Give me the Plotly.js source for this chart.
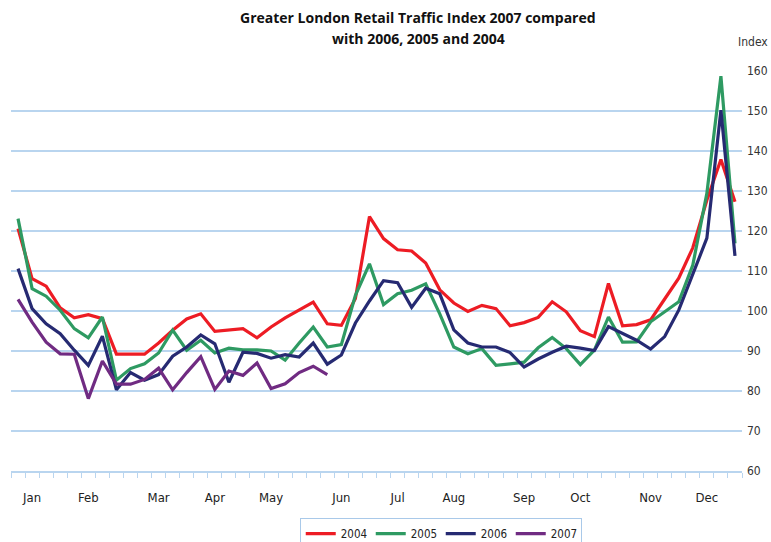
<!DOCTYPE html>
<html>
<head>
<meta charset="utf-8">
<script src="https://cdn.plot.ly/plotly-3.0.1.min.js"></script>
<style>html,body{margin:0;padding:0;background:#fff;}#chart{width:771px;height:542px;}</style>
</head>
<body>
<div id="chart"></div>
<script>
var weeks = [1,2,3,4,5,6,7,8,9,10,11,12,13,14,15,16,17,18,19,20,21,22,23,24,25,26,
             27,28,29,30,31,32,33,34,35,36,37,38,39,40,41,42,43,44,45,46,47,48,49,50,51,52];
var monthWeeks = [2,6,11,15,19,24,28,32,37,41,46,50];
var monthLabels = ["Jan","Feb","Mar","Apr","May","Jun","Jul","Aug","Sep","Oct","Nov","Dec"];

var y2004 = [120.6,108.1,106.2,100.8,98.3,99.1,98.1,89.2,89.2,89.2,92.0,95.2,98.0,99.3,94.9,95.3,95.6,93.3,96.0,98.3,100.2,102.2,96.8,96.4,103.1,123.6,
             118.1,115.3,115.0,112.0,105.3,102.0,99.9,101.4,100.6,96.3,97.1,98.4,102.3,99.8,95.1,93.6,106.9,96.3,96.6,97.8,103.0,108.2,115.8,127.7,137.9,127.3];
var y2005 = [123.1,105.6,103.7,100.2,95.6,93.3,98.5,82.7,85.6,86.8,89.5,95.2,90.2,92.7,89.5,90.7,90.3,90.3,90.0,87.7,92.0,96.0,91.0,91.6,103.9,111.8,
             101.6,104.3,105.2,106.8,99.3,91.0,89.3,90.6,86.4,86.9,87.2,90.8,93.4,90.6,86.6,90.2,98.5,92.2,92.3,97.3,99.8,102.3,111.5,129.4,158.7,116.9];
var y2006 = [110.6,100.6,96.8,94.3,90.2,86.4,93.7,80.3,84.6,82.7,84.1,88.7,91.0,94.0,91.8,82.2,89.7,89.4,88.2,89.1,88.5,92.0,86.7,89.0,97.0,102.5,
             107.6,107.1,100.9,105.7,104.3,95.3,92.0,91.0,91.0,89.6,86.0,88.0,89.7,91.2,90.7,90.1,96.1,94.4,92.7,90.5,93.6,100.2,109.4,118.2,150.2,113.8];
var y2007 = [102.9,97.2,92.2,89.3,89.2,78.1,87.5,81.7,81.7,82.9,85.7,80.3,84.6,88.6,80.4,85.0,83.9,87.0,80.6,81.8,84.6,86.2,84.1];

var seriesNames = ["2004","2005","2006","2007"];
var seriesColors = ["#ed1c24","#2e9a62","#262a72","#702b82"];
var seriesValues = [y2004, y2005, y2006, y2007];

var narrow = "'DejaVu Sans Condensed', 'Liberation Sans Narrow', sans-serif";
var grid = "#b9d5ef";

var traces = seriesValues.map(function (vals, k) {
  return {
    type: "scatter",
    mode: "lines",
    name: seriesNames[k],
    x: weeks.slice(0, vals.length),
    y: vals,
    line: {color: seriesColors[k], width: 3.2}
  };
});

var layout = {
  width: 771,
  height: 542,
  margin: {l: 11, r: 29, t: 71, b: 71, autoexpand: false},
  paper_bgcolor: "#ffffff",
  plot_bgcolor: "#ffffff",
  showlegend: true,
  legend: {
    orientation: "h",
    x: 0.395, xanchor: "left",
    y: -0.118, yanchor: "top",
    bordercolor: "#a9c9e9", borderwidth: 1,
    bgcolor: "#ffffff",
    font: {family: narrow, size: 11.5, color: "#222222"},
    itemwidth: 30,
    entrywidth: 25,
    tracegroupgap: 0
  },
  xaxis: {
    range: [0.5, 52.5],
    tickmode: "array",
    tickvals: monthWeeks,
    ticktext: monthLabels,
    ticks: "",
    showgrid: false,
    zeroline: false,
    showline: true,
    linecolor: grid,
    linewidth: 1.5,
    ticklabelstandoff: 14,
    tickfont: {family: narrow, size: 13, color: "#222222"},
    minor: {tick0: 0.5, dtick: 1, ticks: "outside", ticklen: 5, tickcolor: grid, tickwidth: 1, showgrid: false},
    fixedrange: true
  },
  yaxis: {
    side: "right",
    range: [60, 160],
    dtick: 10,
    tick0: 60,
    showgrid: true,
    gridcolor: grid,
    gridwidth: 1.5,
    zeroline: false,
    showline: false,
    ticks: "",
    ticklabelstandoff: 4,
    tickfont: {family: narrow, size: 12, color: "#333333"},
    fixedrange: true
  },
  annotations: [
    {
      text: "<b>Greater London Retail Traffic Index 2007 compared</b>",
      xref: "paper", yref: "paper", x: 0.5568, y: 1.1325,
      xanchor: "center", yanchor: "middle", showarrow: false,
      font: {family: "'Open Sans', sans-serif", size: 14, color: "#111111"}
    },
    {
      text: "<b>with 2006, 2005 and 2004</b>",
      xref: "paper", yref: "paper", x: 0.5568, y: 1.08,
      xanchor: "center", yanchor: "middle", showarrow: false,
      font: {family: "'Open Sans', sans-serif", size: 14, color: "#111111"}
    },
    {
      text: "Index",
      xref: "paper", yref: "paper",
      x: 1.0, y: 1.0, xanchor: "left", yanchor: "bottom",
      xshift: -6, yshift: 20,
      showarrow: false,
      font: {family: narrow, size: 12, color: "#333333"}
    }
  ]
};

Plotly.newPlot("chart", traces, layout, {displayModeBar: false, staticPlot: true});
</script>
</body>
</html>
